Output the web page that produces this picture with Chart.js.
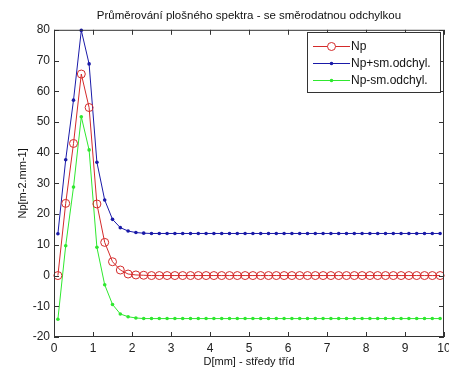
<!DOCTYPE html>
<html>
<head>
<meta charset="utf-8">
<script src="https://cdn.jsdelivr.net/npm/chart.js@4"></script>
<style>
  html, body { margin: 0; padding: 0; background: #fff; }
  canvas { display: block; }
</style>
</head>
<body>
<canvas id="myChart" width="449" height="372"></canvas>
<script>
  // střed třídy D [mm]
  const diameters = [
    0.1, 0.3, 0.5, 0.7, 0.9, 1.1, 1.3, 1.5, 1.7, 1.9,
    2.1, 2.3, 2.5, 2.7, 2.9, 3.1, 3.3, 3.5, 3.7, 3.9,
    4.1, 4.3, 4.5, 4.7, 4.9, 5.1, 5.3, 5.5, 5.7, 5.9,
    6.1, 6.3, 6.5, 6.7, 6.9, 7.1, 7.3, 7.5, 7.7, 7.9,
    8.1, 8.3, 8.5, 8.7, 8.9, 9.1, 9.3, 9.5, 9.7, 9.9
  ];
  const np = [
    0, 23.5, 43, 65.6, 54.7, 23.3, 10.8, 4.5, 1.8, 0.5,
    0.2, 0.1, 0, 0, 0, 0, 0, 0, 0, 0,
    0, 0, 0, 0, 0, 0, 0, 0, 0, 0,
    0, 0, 0, 0, 0, 0, 0, 0, 0, 0,
    0, 0, 0, 0, 0, 0, 0, 0, 0, 0
  ];
  const npPlus = [
    13.6, 37.7, 57.1, 79.8, 68.9, 36.9, 24.6, 18.3, 15.6, 14.5,
    14.0, 13.8, 13.7, 13.7, 13.7, 13.7, 13.7, 13.7, 13.7, 13.7,
    13.7, 13.7, 13.7, 13.7, 13.7, 13.7, 13.7, 13.7, 13.7, 13.7,
    13.7, 13.7, 13.7, 13.7, 13.7, 13.7, 13.7, 13.7, 13.7, 13.7,
    13.7, 13.7, 13.7, 13.7, 13.7, 13.7, 13.7, 13.7, 13.7, 13.7
  ];
  const npMinus = [
    -14.2, 9.7, 28.8, 51.7, 40.9, 9.2, -3.0, -9.4, -12.5, -13.4,
    -13.8, -14.0, -14.0, -14.0, -14.0, -14.0, -14.0, -14.0, -14.0, -14.0,
    -14.0, -14.0, -14.0, -14.0, -14.0, -14.0, -14.0, -14.0, -14.0, -14.0,
    -14.0, -14.0, -14.0, -14.0, -14.0, -14.0, -14.0, -14.0, -14.0, -14.0,
    -14.0, -14.0, -14.0, -14.0, -14.0, -14.0, -14.0, -14.0, -14.0, -14.0
  ];

  const FONT = "'Liberation Sans', Arial, sans-serif";
  const AXIS = '#333';

  const pts = vals => diameters.map((d, i) => ({ x: d, y: vals[i] }));

  // box kolem grafu + ticky dovnitř (styl matlabu)
  const boxTicks = {
    id: 'boxTicks',
    afterDatasetsDraw(chart) {
      const { ctx, chartArea: a, scales: { x, y } } = chart;
      ctx.save();
      ctx.strokeStyle = AXIS;
      ctx.lineWidth = 1;
      ctx.strokeRect(a.left + 0.5, a.top + 0.5, a.right - a.left - 1, a.bottom - a.top - 1);
      ctx.beginPath();
      x.ticks.forEach(t => {
        const px = Math.round(x.getPixelForValue(t.value)) + 0.5;
        ctx.moveTo(px, a.bottom); ctx.lineTo(px, a.bottom - 5);
        ctx.moveTo(px, a.top); ctx.lineTo(px, a.top + 5);
      });
      y.ticks.forEach(t => {
        const py = Math.round(y.getPixelForValue(t.value)) + 0.5;
        ctx.moveTo(a.left, py); ctx.lineTo(a.left + 5, py);
        ctx.moveTo(a.right, py); ctx.lineTo(a.right - 5, py);
      });
      ctx.stroke();
      ctx.restore();
    }
  };

  // legenda v rohu
  const boxLegend = {
    id: 'boxLegend',
    afterDraw(chart) {
      const { ctx } = chart;
      const bx = 307, by = 32, bw = 133, bh = 60;
      ctx.save();
      ctx.fillStyle = '#fff';
      ctx.fillRect(bx, by, bw, bh);
      ctx.strokeStyle = AXIS;
      ctx.lineWidth = 1;
      ctx.strokeRect(bx + 0.5, by + 0.5, bw, bh);
      ctx.font = '12px ' + FONT;
      ctx.textBaseline = 'middle';
      chart.data.datasets.forEach((ds, i) => {
        const ly = by + 14 + i * 17 + 0.5;
        ctx.strokeStyle = ds.borderColor;
        ctx.beginPath();
        ctx.moveTo(313, ly); ctx.lineTo(350, ly);
        ctx.stroke();
        ctx.beginPath();
        ctx.arc(331.5, ly, ds.pointRadius, 0, Math.PI * 2);
        if (ds.pointBackgroundColor === 'transparent') {
          ctx.fillStyle = '#fff'; ctx.fill(); ctx.stroke();
        } else {
          ctx.fillStyle = ds.pointBackgroundColor; ctx.fill();
        }
        ctx.fillStyle = '#111';
        ctx.fillText(ds.label, 351, ly);
      });
      ctx.restore();
    }
  };

  const ctx = document.getElementById('myChart').getContext('2d');
  new Chart(ctx, {
    type: 'scatter',
    data: {
      datasets: [{
        label: 'Np',
        data: pts(np),
        showLine: true,
        borderColor: '#d42a2a',
        borderWidth: 1,
        pointStyle: 'circle',
        pointRadius: 4,
        pointBorderWidth: 1,
        pointBorderColor: '#d42a2a',
        pointBackgroundColor: 'transparent',
        clip: false
      }, {
        label: 'Np+sm.odchyl.',
        data: pts(npPlus),
        showLine: true,
        borderColor: '#1a1aa8',
        borderWidth: 1,
        pointRadius: 1.8,
        pointBorderWidth: 0,
        pointBackgroundColor: '#1a1aa8',
        clip: false
      }, {
        label: 'Np-sm.odchyl.',
        data: pts(npMinus),
        showLine: true,
        borderColor: '#2fe82f',
        borderWidth: 1,
        pointRadius: 1.8,
        pointBorderWidth: 0,
        pointBackgroundColor: '#2fe82f',
        clip: false
      }]
    },
    options: {
      responsive: false,
      animation: false,
      layout: { padding: { left: 0, right: 3, top: 0, bottom: 0 } },
      plugins: {
        legend: { display: false },
        tooltip: { enabled: false },
        title: {
          display: true,
          fullSize: false,
          text: 'Průměrování plošného spektra - se směrodatnou odchylkou',
          color: '#111',
          font: { family: FONT, size: 11.5, weight: 'normal' },
          padding: { top: 9, bottom: 7 }
        }
      },
      scales: {
        x: {
          type: 'linear',
          min: 0,
          max: 10,
          grid: { display: false, drawTicks: false },
          border: { display: false },
          ticks: { stepSize: 1, padding: 4, color: '#222', maxRotation: 0,
                   font: { family: FONT, size: 12 } },
          title: { display: true, text: 'D[mm] - středy tříd', color: '#111',
                   font: { family: FONT, size: 11 }, padding: { top: 0, bottom: 3 } },
          afterFit(s) { s.height = 35; s.paddingLeft = 0; s.paddingRight = 0; }
        },
        y: {
          min: -20,
          max: 80,
          grid: { display: false, drawTicks: false },
          border: { display: false },
          ticks: { stepSize: 10, padding: 4, color: '#222',
                   font: { family: FONT, size: 12 } },
          title: { display: true, text: 'Np[m-2.mm-1]', color: '#111',
                   font: { family: FONT, size: 11 }, padding: { top: 16, bottom: 0 } },
          afterFit(s) { s.width = 54; s.paddingTop = 0; s.paddingBottom = 0; }
        }
      }
    },
    plugins: [boxTicks, boxLegend]
  });
</script>
</body>
</html>
